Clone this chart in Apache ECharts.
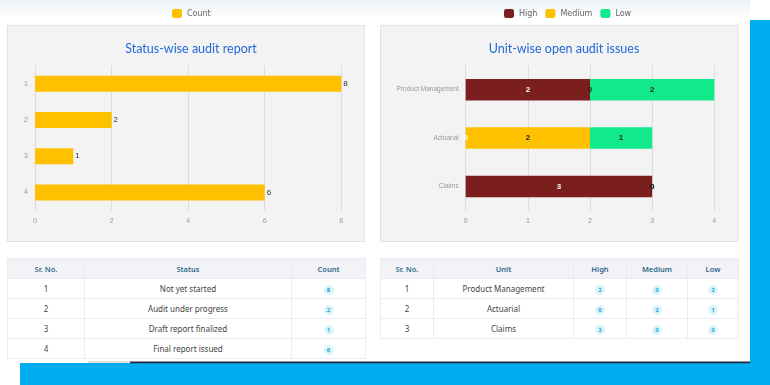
<!DOCTYPE html>
<html>
<head>
<meta charset="utf-8">
<script src="https://cdn.jsdelivr.net/npm/echarts@6/dist/echarts.min.js"></script>
<style>
  html, body { margin:0; padding:0; background:#fff; }
  #wrap { position:relative; width:770px; height:385px; overflow:hidden; }
  #chart { position:absolute; left:0; top:0; width:770px; height:385px; }
  table.t { position:absolute; border-collapse:collapse; font-family:"Noto Sans", "DejaVu Sans", sans-serif; table-layout:fixed; background:#fff; }
  table.t th, table.t td { border:1px solid #ebebf0; text-align:center; padding:0; height:19px; }
  table.t th { background:#f2f2f7; color:#2f6a8a; font-size:7.5px; font-weight:600; }
  table.t td { color:#444; font-size:8px; }
  .b { display:inline-block; width:10px; height:10px; line-height:10px; border-radius:50%; background:#dcf4fb; color:#22a9d6; font-size:6px; font-weight:bold; }
</style>
</head>
<body>
<div id="wrap">
  <div id="chart"></div>
  <table class="t" id="t1" style="left:7px; top:258px; width:358px;"></table>
  <table class="t" id="t2" style="left:380px; top:258px; width:358px;"></table>
</div>
<script>
// ---- data ----
var statusCats = ['1', '2', '3', '4'];
var statusCounts = [8, 2, 1, 6];
var statusNames = ['Not yet started', 'Audit under progress', 'Draft report finalized', 'Final report issued'];
var units = ['Product Management', 'Actuarial', 'Claims'];
var highVals = [2, 0, 3];
var mediumVals = [0, 2, 0];
var lowVals = [2, 1, 0];
var statusTicks = [0, 2, 4, 6, 8];
var unitTicks = [0, 1, 2, 3, 4];

// ---- tables ----
function badge(v) { return '<span class="b">' + v + '</span>'; }
var h1 = '<colgroup><col style="width:77px"><col style="width:207px"><col style="width:74px"></colgroup>' +
  '<tr><th>Sr. No.</th><th>Status</th><th>Count</th></tr>';
for (var i = 0; i < statusNames.length; i++) {
  h1 += '<tr><td>' + statusCats[i] + '</td><td>' + statusNames[i] + '</td><td>' + badge(statusCounts[i]) + '</td></tr>';
}
document.getElementById('t1').innerHTML = h1;
var h2 = '<colgroup><col style="width:53px"><col style="width:140px"><col style="width:53px"><col style="width:61px"><col style="width:51px"></colgroup>' +
  '<tr><th>Sr. No.</th><th>Unit</th><th>High</th><th>Medium</th><th>Low</th></tr>';
for (var j = 0; j < units.length; j++) {
  h2 += '<tr><td>' + (j + 1) + '</td><td>' + units[j] + '</td><td>' + badge(highVals[j]) + '</td><td>' + badge(mediumVals[j]) + '</td><td>' + badge(lowVals[j]) + '</td></tr>';
}
document.getElementById('t2').innerHTML = h2;

// ---- chart ----
var chart = echarts.init(document.getElementById('chart'), null, { renderer: 'canvas' });
var YEL = '#FFC000', RED = '#7B1E1E', GRN = '#12E98B';
var axisLbl = { color: '#999', fontSize: 7, fontFamily: 'Arial, "Liberation Sans", sans-serif' };
var split = { show: true, lineStyle: { color: '#dcdcdc', width: 1 } };
var titleFont = { color: '#2468d8', fontSize: 12.5, fontWeight: 'normal', fontFamily: 'Lato, "Open Sans", sans-serif' };

var option = {
  backgroundColor: '#ffffff',
  animation: false,
  graphic: [
    { type: 'rect', z: -10, shape: { x: 0, y: 0, width: 750, height: 16 },
      style: { fill: new echarts.graphic.LinearGradient(0, 0, 0, 1, [{ offset: 0, color: '#eef2f5' }, { offset: 1, color: '#fbfcfd' }]) } },
    { type: 'rect', z: -10, shape: { x: 7.5, y: 25.5, width: 357, height: 216 }, style: { fill: '#f3f3f3', stroke: '#e2e2e2', lineWidth: 1 } },
    { type: 'rect', z: -10, shape: { x: 380.5, y: 25.5, width: 357.5, height: 216 }, style: { fill: '#f3f3f3', stroke: '#e2e2e2', lineWidth: 1 } },
    { type: 'rect', z: -10, shape: { x: 750, y: 20, width: 20, height: 365 }, style: { fill: '#00AEEF' } },
    { type: 'rect', z: -10, shape: { x: 20, y: 363, width: 750, height: 22 }, style: { fill: '#00AEEF' } },
    { type: 'rect', z: -10, shape: { x: 130, y: 361.5, width: 620, height: 1.8 }, style: { fill: '#1e2a3a' } },
    { type: 'rect', z: -10, shape: { x: 88, y: 361.5, width: 42, height: 1 }, style: { fill: '#c8c8c8' } }
  ],
  title: [
    { text: 'Status-wise audit report', left: 186, top: 37, textAlign: 'center', textStyle: titleFont },
    { text: 'Unit-wise open audit issues', left: 559, top: 37, textAlign: 'center', textStyle: titleFont }
  ],
  legend: [
    { data: ['Count'], left: 167, top: 4, itemWidth: 10, itemHeight: 9, itemGap: 8,
      textStyle: { fontSize: 8, color: '#666', fontFamily: 'Tahoma, "DejaVu Sans", sans-serif' } },
    { data: ['High', 'Medium', 'Low'], left: 499, top: 4, itemWidth: 10, itemHeight: 9, itemGap: 8,
      textStyle: { fontSize: 8, color: '#666', fontFamily: 'Tahoma, "DejaVu Sans", sans-serif' } }
  ],
  grid: [
    { left: 35, top: 65.5, width: 306.3, height: 145.2, containLabel: false },
    { left: 465.7, top: 65.5, width: 248.6, height: 145.2, containLabel: false }
  ],
  xAxis: [
    { gridIndex: 0, type: 'value', min: statusTicks[0], max: statusTicks[statusTicks.length - 1], interval: 2,
      axisLine: { show: false }, axisTick: { show: false }, splitLine: split, axisLabel: Object.assign({ margin: 7 }, axisLbl) },
    { gridIndex: 1, type: 'value', min: unitTicks[0], max: unitTicks[unitTicks.length - 1], interval: 1,
      axisLine: { show: false }, axisTick: { show: false }, splitLine: split, axisLabel: Object.assign({ margin: 7 }, axisLbl) }
  ],
  yAxis: [
    { gridIndex: 0, type: 'category', data: statusCats, inverse: true,
      axisLine: { show: false }, axisTick: { show: false }, axisLabel: Object.assign({ margin: 7 }, axisLbl) },
    { gridIndex: 1, type: 'category', data: units, inverse: true,
      axisLine: { show: false }, axisTick: { show: false }, axisLabel: Object.assign({ margin: 7 }, axisLbl, { fontSize: 6.5 }) }
  ],
  series: [
    { name: 'Count', type: 'bar', xAxisIndex: 0, yAxisIndex: 0, data: statusCounts, barWidth: 16,
      itemStyle: { color: YEL },
      label: { show: true, position: 'right', distance: 2, color: '#333', fontSize: 8, fontFamily: 'Arial, sans-serif' } },
    { name: 'High', type: 'bar', stack: 'u', xAxisIndex: 1, yAxisIndex: 1, data: highVals, barWidth: 21.5,
      itemStyle: { color: RED },
      label: { show: true, position: 'inside', color: '#fff', fontSize: 8, fontWeight: 'bold', fontFamily: 'Arial, sans-serif' } },
    { name: 'Medium', type: 'bar', stack: 'u', xAxisIndex: 1, yAxisIndex: 1, data: mediumVals, barWidth: 21.5,
      itemStyle: { color: YEL },
      label: { show: true, position: 'inside', color: '#222', fontSize: 8, fontWeight: 'bold', fontFamily: 'Arial, sans-serif' } },
    { name: 'Low', type: 'bar', stack: 'u', xAxisIndex: 1, yAxisIndex: 1, data: lowVals, barWidth: 21.5,
      itemStyle: { color: GRN },
      label: { show: true, position: 'inside', color: '#222', fontSize: 8, fontWeight: 'bold', fontFamily: 'Arial, sans-serif' } }
  ]
};
chart.setOption(option);
</script>
</body>
</html>
